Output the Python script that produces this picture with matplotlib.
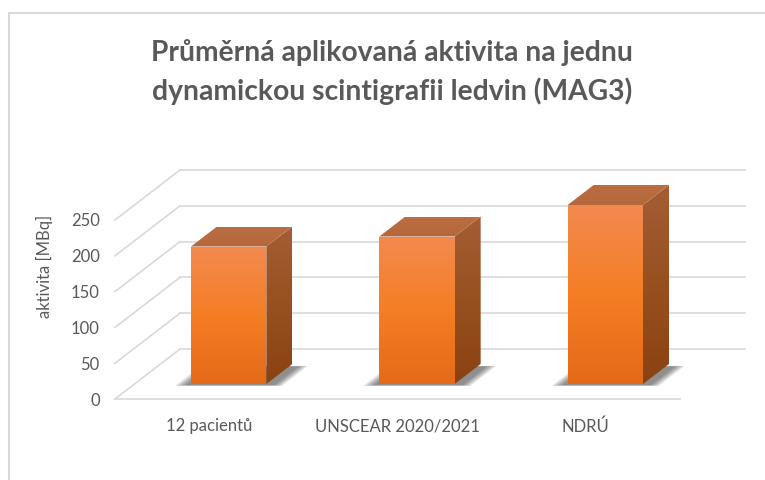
import numpy as np
import matplotlib
matplotlib.use('Agg')
import matplotlib.pyplot as plt
from matplotlib.patches import Polygon, Rectangle
from matplotlib.lines import Line2D
from matplotlib.transforms import IdentityTransform
from matplotlib.colors import LinearSegmentedColormap

# data
categories = ['12 pacientů', 'UNSCEAR 2020/2021', 'NDRÚ']
values = [192, 206, 250]
yticks = [0, 50, 100, 150, 200, 250]
title_lines = ['Průměrná aplikovaná aktivita na jednu',
               'dynamickou scintigrafii ledvin (MAG3)']
ylabel = 'aktivita [MBq]'

plt.rcParams['font.family'] = ['Lato', 'DejaVu Sans']

W, H = 765, 480
fig = plt.figure(figsize=(W / 100, H / 100), dpi=100)
fig.patch.set_facecolor('white')

# front plane of the 3d plot area
ax = fig.add_axes([115 / W, 81 / H, 565 / W, 179 / H])
ax.set_autoscale_on(False)
ax.set_xlim(-0.5, 2.5)
ax.set_ylim(0, 250)
ax.set_facecolor('none')
for s in ax.spines.values():
    s.set_visible(False)
ax.set_xticks(range(len(categories)), categories)
ax.set_yticks(yticks)
ax.tick_params(length=0, labelsize=12, labelcolor='#595959')
ax.tick_params(axis='y', pad=11)
ax.tick_params(axis='x', pad=14)

DX, DY = 65, 50  # depth of the plot box in pixels
ident = IdentityTransform()
grid_c = '#D9D9D9'


def proj(x, v, d):
    """data point (x, v) pushed back by depth fraction d"""
    px, py = ax.transData.transform((x, v))
    return (px + DX * d, py + DY * d)


def seg(p, q):
    ax.add_line(Line2D([p[0], q[0]], [p[1], q[1]], transform=ident,
                       color=grid_c, lw=1.2, clip_on=False, zorder=1))


def grad_fill(pts, colors, z):
    pts = np.array(pts)
    patch = Polygon(pts, closed=True, transform=ident)
    cmap = LinearSegmentedColormap.from_list('g', colors)
    grad = np.linspace(0, 1, 256).reshape(-1, 1)
    (xmin, ymin), (xmax, ymax) = pts.min(0), pts.max(0)
    im = ax.imshow(grad, cmap=cmap, extent=(xmin, xmax, ymin, ymax),
                   origin='lower', aspect='auto', transform=ident,
                   interpolation='bilinear', zorder=z)
    im.set_clip_path(patch)
    im.set_clip_box(fig.bbox)


# walls and floor
for v in yticks:
    seg(proj(-0.5, v, 1), proj(2.5, v, 1))
    seg(proj(-0.5, v, 0), proj(-0.5, v, 1))
seg(proj(-0.5, 0, 0), proj(2.5, 0, 0))

d0, d1 = 0.3, 0.7
for i, v in enumerate(values):
    x0, x1 = i - 0.2, i + 0.2
    # soft shadow on the floor
    for k in range(7):
        e = 0.009 * (7 - k)
        shadow = [proj(x0 - 0.01 - e, 0, d0 - 0.02 - e * 0.3),
                  proj(x1 + 0.04 + e * 0.9, 0, d0 - 0.02 - e * 0.3),
                  proj(x1 + 0.04 + e * 0.9, 0, d1 - 0.05 + e * 0.2),
                  proj(x0 - 0.01 - e, 0, d1 - 0.05 + e * 0.2)]
        ax.add_patch(Polygon(shadow, closed=True, transform=ident,
                             facecolor='#303030', edgecolor='none',
                             alpha=0.10, clip_on=False, zorder=2))
    front = [proj(x0, 0, d0), proj(x1, 0, d0), proj(x1, v, d0), proj(x0, v, d0)]
    side = [proj(x1, 0, d0), proj(x1, 0, d1), proj(x1, v, d1), proj(x1, v, d0)]
    top = [proj(x0, v, d0), proj(x1, v, d0), proj(x1, v, d1), proj(x0, v, d1)]
    grad_fill(side, ['#8B4213', '#97501F', '#A55E35'], 3)
    grad_fill(top, ['#B5683C', '#B96D41'], 3)
    grad_fill(front, ['#E46A18', '#F57E24', '#F28A50'], 4)

ax.set_xlim(-0.5, 2.5)
ax.set_ylim(0, 250)

# titles and labels
fig.text(392 / W, 1 - 53 / H, title_lines[0], ha='center', va='center',
         fontsize=20.3, fontweight='bold', color='#595959')
fig.text(392 / W, 1 - 91 / H, title_lines[1], ha='center', va='center',
         fontsize=20.3, fontweight='bold', color='#595959')
fig.text(44 / W, 1 - 266 / H, ylabel, rotation=90, ha='center', va='center',
         fontsize=12, color='#595959')

# chart border (only top and left edges fall inside the picture)
fig.add_artist(Rectangle((9 / W, -0.1), 1.2, 1.1 - 13 / H,
                         transform=fig.transFigure, facecolor='none',
                         edgecolor='#D9D9D9', lw=1.5))

fig.savefig('out.png', dpi=100)
